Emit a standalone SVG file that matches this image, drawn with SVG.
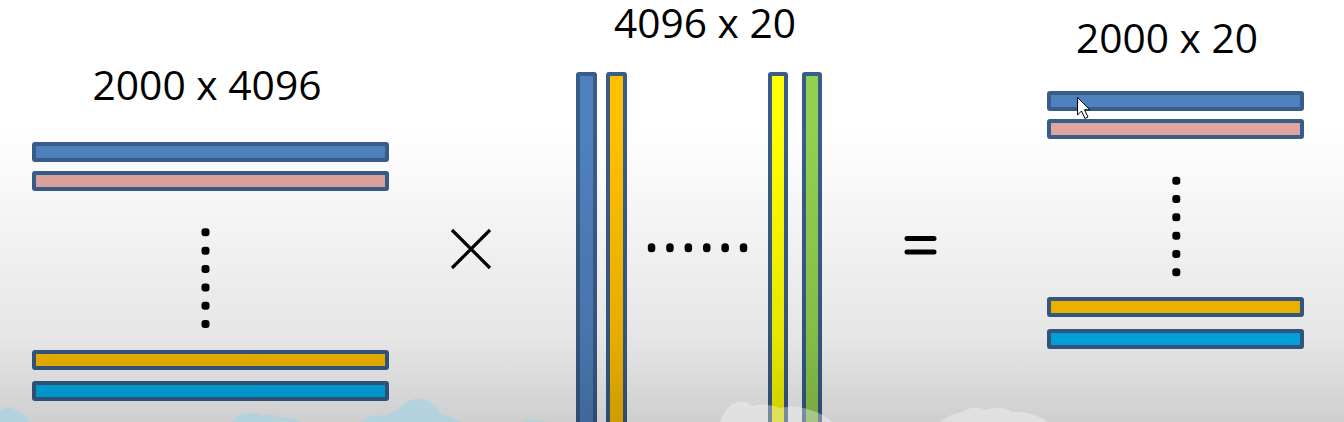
<svg xmlns="http://www.w3.org/2000/svg" width="1344" height="422" viewBox="0 0 1344 422">
  <defs>
    <linearGradient id="shade" x1="0" y1="0" x2="0" y2="1">
      <stop offset="0" stop-color="#000" stop-opacity="0"/>
      <stop offset="0.3" stop-color="#000" stop-opacity="0"/>
      <stop offset="0.5" stop-color="#000" stop-opacity="0.04"/>
      <stop offset="0.8" stop-color="#000" stop-opacity="0.1"/>
      <stop offset="1" stop-color="#000" stop-opacity="0.19"/>
    </linearGradient>
  </defs>
  <style>
    .bar { stroke: #385d8a; stroke-width: 4; }
    .blue { fill: #4f81bd; }
    .pink { fill: #dfa59f; }
    .gold { fill: #ffc000; }
    .cyan { fill: #00b0f0; }
    .yel { fill: #ffff00; }
    .grn { fill: #92d050; }
    .dot { fill: #000; }
    .lbl { font-family: "Open Sans", "Liberation Sans", sans-serif; font-size: 40px; fill: #000; text-anchor: middle; }
    .op { stroke: #000; fill: none; }
  </style>
  <rect width="1344" height="422" fill="#ffffff"/>

  <g id="matrixA">
    <text class="lbl" x="207" y="100" textLength="229" lengthAdjust="spacingAndGlyphs">2000 x 4096</text>
    <rect class="bar blue" x="34" y="144" width="353" height="16" rx="1"/>
    <rect class="bar pink" x="34" y="173" width="353" height="16" rx="1"/>
    <g class="dot">
      <rect x="201.5" y="228.3" width="8" height="8" rx="3"/>
      <rect x="201.5" y="246.7" width="8" height="8" rx="3"/>
      <rect x="201.5" y="265" width="8" height="8" rx="3"/>
      <rect x="201.5" y="283.4" width="8" height="8" rx="3"/>
      <rect x="201.5" y="301.7" width="8" height="8" rx="3"/>
      <rect x="201.5" y="320" width="8" height="8" rx="3"/>
    </g>
    <rect class="bar gold" x="34" y="352" width="353" height="16" rx="1"/>
    <rect class="bar cyan" x="34" y="383" width="353" height="16" rx="1"/>
  </g>

  <g id="times">
    <path class="op" stroke-width="3.2" d="M452 230 L490 268 M490 230 L452 268"/>
  </g>

  <g id="matrixB">
    <text class="lbl" x="705" y="38" textLength="182" lengthAdjust="spacingAndGlyphs">4096 x 20</text>
    <rect class="bar blue" x="578" y="74" width="17" height="370" rx="1"/>
    <rect class="bar gold" x="608" y="74" width="17" height="370" rx="1"/>
    <g class="dot">
      <rect x="647.8" y="243.2" width="7.5" height="9" rx="3.5"/>
      <rect x="666.2" y="243.2" width="7.5" height="9" rx="3.5"/>
      <rect x="684.6" y="243.2" width="7.5" height="9" rx="3.5"/>
      <rect x="703" y="243.2" width="7.5" height="9" rx="3.5"/>
      <rect x="721.4" y="243.2" width="7.5" height="9" rx="3.5"/>
      <rect x="739.8" y="243.2" width="7.5" height="9" rx="3.5"/>
    </g>
    <rect class="bar yel" x="770" y="74" width="16" height="370" rx="1"/>
    <rect class="bar grn" x="804" y="74" width="16" height="370" rx="1"/>
  </g>

  <g id="equals">
    <path class="op" stroke-width="5" stroke-linecap="round" d="M907 238.5 L934 238.5 M907 252 L934 252"/>
  </g>

  <g id="matrixC">
    <text class="lbl" x="1167" y="53" textLength="182" lengthAdjust="spacingAndGlyphs">2000 x 20</text>
    <rect class="bar blue" x="1049" y="93" width="253" height="16" rx="1"/>
    <rect class="bar pink" x="1049" y="121" width="253" height="16" rx="1"/>
    <g class="dot">
      <rect x="1172.3" y="176.7" width="8" height="8" rx="3"/>
      <rect x="1172.3" y="195" width="8" height="8" rx="3"/>
      <rect x="1172.3" y="213.3" width="8" height="8" rx="3"/>
      <rect x="1172.3" y="231.7" width="8" height="8" rx="3"/>
      <rect x="1172.3" y="250" width="8" height="8" rx="3"/>
      <rect x="1172.3" y="268.3" width="8" height="8" rx="3"/>
    </g>
    <rect class="bar gold" x="1049" y="299" width="253" height="16" rx="1"/>
    <rect class="bar cyan" x="1049" y="331" width="253" height="16" rx="1"/>
  </g>

  <rect id="shading" width="1344" height="422" fill="url(#shade)"/>

  <g id="clouds" fill="#a9d3e3" opacity="0.75">
    <path d="M0 422 L0 412 Q8 404 16 410 Q22 414 28 418 L30 422 Z"/>
    <path d="M232 422 Q240 412 248 414 Q258 410 262 416 Q272 412 280 418 Q290 416 300 422 Z"/>
    <path d="M360 422 Q372 414 384 416 Q396 412 404 404 Q414 396 426 400 Q436 404 440 414 Q450 416 462 422 Z"/>
    <path d="M520 422 Q530 418 540 420 L546 422 Z"/>
  </g>
  <g id="clouds2" fill="#ffffff" opacity="0.35">
    <path d="M720 422 Q724 410 732 404 Q744 398 752 406 Q766 402 780 408 Q796 404 810 410 Q824 414 832 422 Z"/>
    <path d="M940 422 Q950 414 962 412 Q974 404 986 410 Q1000 404 1012 412 Q1030 410 1048 422 Z"/>
  </g>

  <g id="cursor">
    <path d="M1077.5 97.5 L1077.5 115 L1081.5 111 L1085 118.5 L1088 117 L1084.5 109.8 L1090 109.8 Z" fill="#ffffff" stroke="#000" stroke-width="1" stroke-linejoin="round"/>
  </g>
</svg>
